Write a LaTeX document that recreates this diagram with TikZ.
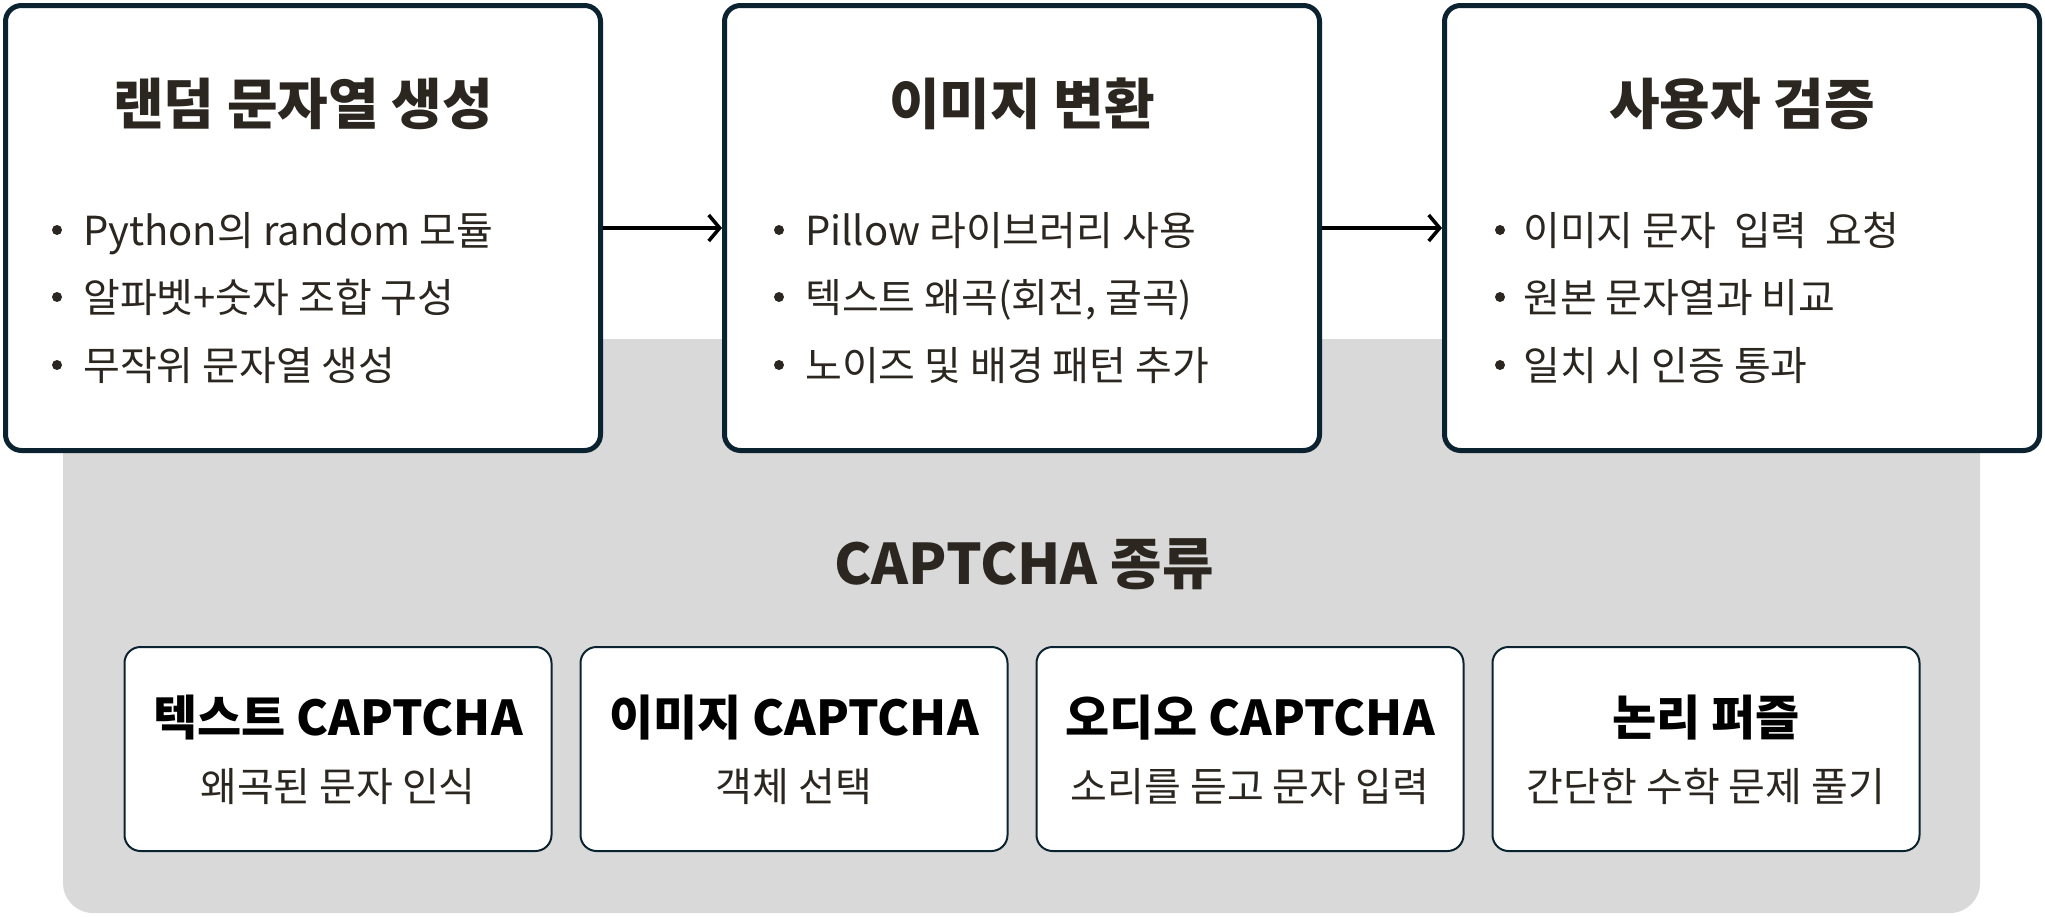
\documentclass[tikz,border=0pt]{standalone}
\usepackage{fontspec}
\setmainfont{Noto Sans CJK KR}
\usetikzlibrary{arrows.meta}
\definecolor{navy}{HTML}{0B2330}
\definecolor{bggray}{HTML}{D9D9D9}
\definecolor{ink}{HTML}{2B2620}
\begin{document}
\begin{tikzpicture}[x=1pt,y=-1pt,
  bigbox/.style={draw=navy, line width=5pt, fill=white, rounded corners=16pt,
    minimum width=595pt, minimum height=445pt, inner sep=0pt},
  smallbox/.style={draw=navy, line width=2pt, fill=white, rounded corners=16pt,
    minimum width=427pt, minimum height=204pt, inner sep=0pt},
  bigtitle/.style={anchor=base, inner sep=0pt, text=ink, font=\fontsize{55}{60}\selectfont\bfseries},
  sectitle/.style={anchor=base, inner sep=0pt, text=ink, font=\fontsize{56}{60}\selectfont\bfseries},
  item/.style={anchor=base west, inner sep=0pt, text=ink, font=\fontsize{40}{44}\selectfont},
  dot/.style={circle, fill=ink, inner sep=0pt, minimum size=10pt},
  cattitle/.style={anchor=base, inner sep=0pt, text=black, font=\fontsize{48}{52}\selectfont\bfseries},
  catsub/.style={anchor=base, inner sep=0pt, text=ink, font=\fontsize{40}{44}\selectfont},
  flow/.style={line width=4pt, black, -{Straight Barb[length=11pt,width=26pt,line width=3.5pt]}}
]
\useasboundingbox (0,0) rectangle (2045,916);
\fill[bggray, rounded corners=30pt] (63,339) rectangle (1980,913);

% top boxes
\node[bigbox] (b1) at (303,228) {};
\node[bigbox] (b2) at (1022,228) {};
\node[bigbox] (b3) at (1742,228) {};

\draw[flow] (b1.east) -- (b2.west);
\draw[flow] (b2.east) -- (b3.west);

\node[bigtitle] (t1) at (303,124) {랜덤 문자열 생성};
\node[bigtitle] (t2) at (1022,124) {이미지 변환};
\node[bigtitle] (t3) at (1742,124) {사용자 검증};

% box 1 items
\node[dot] (d11) at (57,230) {};
\node[dot] (d12) at (57,297) {};
\node[dot] (d13) at (57,365) {};
\node[item] (i11) at (83,245) {Python의 random 모듈};
\node[item] (i12) at (83,312) {알파벳+숫자 조합 구성};
\node[item] (i13) at (83,380) {무작위 문자열 생성};

% box 2 items
\node[dot] (d21) at (779,230) {};
\node[dot] (d22) at (779,297) {};
\node[dot] (d23) at (779,365) {};
\node[item] (i21) at (805,245) {Pillow 라이브러리 사용};
\node[item] (i22) at (805,312) {텍스트 왜곡(회전, 굴곡)};
\node[item] (i23) at (805,380) {노이즈 및 배경 패턴 추가};

% box 3 items
\node[dot] (d31) at (1500,230) {};
\node[dot] (d32) at (1500,297) {};
\node[dot] (d33) at (1500,365) {};
\node[item] (i31) at (1523,245) {이미지 문자\ \ 입력\ \ 요청};
\node[item] (i32) at (1523,312) {원본 문자열과 비교};
\node[item] (i33) at (1523,380) {일치 시 인증 통과};

% CAPTCHA types
\node[sectitle] (ct) at (1024,584) {CAPTCHA 종류};

\node[smallbox] (c1) at (338,749) {};
\node[smallbox] (c2) at (794,749) {};
\node[smallbox] (c3) at (1250,749) {};
\node[smallbox] (c4) at (1706,749) {};

\node[cattitle] (c1t) at (338,735) {텍스트 CAPTCHA};
\node[cattitle] (c2t) at (794,735) {이미지 CAPTCHA};
\node[cattitle] (c3t) at (1250,735) {오디오 CAPTCHA};
\node[cattitle] (c4t) at (1706,735) {논리 퍼즐};

\node[catsub] (c1s) at (338,801) {왜곡된 문자 인식};
\node[catsub] (c2s) at (794,801) {객체 선택};
\node[catsub] (c3s) at (1250,801) {소리를 듣고 문자 입력};
\node[catsub] (c4s) at (1706,801) {간단한 수학 문제 풀기};
\end{tikzpicture}
\end{document}
